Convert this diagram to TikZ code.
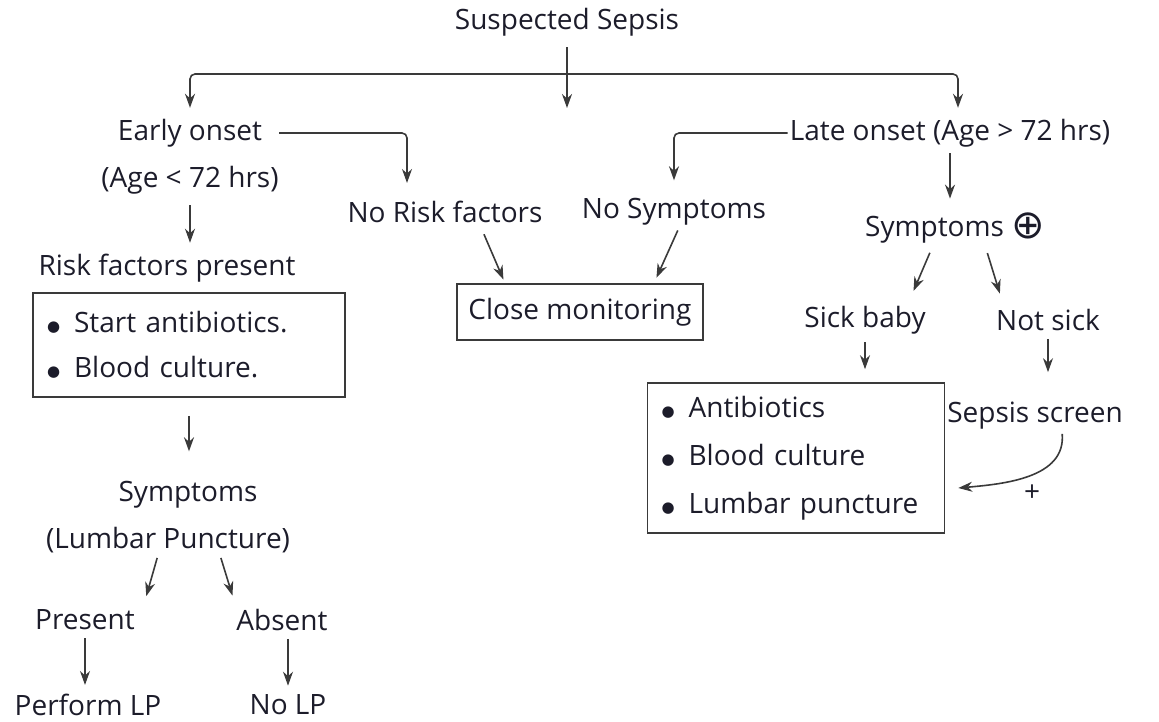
\documentclass[tikz,border=0pt]{standalone}
\usepackage{fontspec}
\setmainfont{Open Sans}
\newfontfamily\symfont{DejaVu Sans}
\usetikzlibrary{arrows.meta}
\definecolor{txtcol}{HTML}{1C1C2A}
\definecolor{linecol}{HTML}{3A3A3A}
\newcommand{\bul}{{\symfont\fontsize{15}{15}\selectfont\raisebox{1pt}{●}}\hspace{14pt}}

\begin{document}
\begin{tikzpicture}[x=1pt, y=-1pt,
    every node/.style={font=\fontsize{28}{32}\selectfont, text=txtcol, inner sep=2pt},
    arr/.style={draw=linecol, line width=1.6pt, shorten <=9pt, shorten >=9pt,
        -{Stealth[length=14pt,width=10pt]}},
    box/.style={draw=linecol, line width=1.6pt, align=left}]
    \useasboundingbox (0,0) rectangle (1159,722);

    % top
    \node (ss) at (567,22) {Suspected Sepsis};
    \coordinate (bar) at (567,74);
    \coordinate (mid) at (567,117);
    \node (eo) at (190,133) {Early onset};
    \node (eoage) at (190,180) {(Age < 72 hrs)};
    \node (lo) at (950,133) {Late onset (Age > 72 hrs)};

    % middle
    \node (nrf) at (445,212) {No Risk factors};
    \node (nsy) at (674,212) {No Symptoms};
    \node (cm) [box, minimum width=246, minimum height=56] at (580,312) {Close monitoring};

    % early onset branch
    \node (rfp) at (167,268) {Risk factors present};
    \node (lbox) [box, minimum width=312, minimum height=104, inner xsep=14pt,
        text width=284, font=\fontsize{28}{45}\selectfont] at (189,345)
        {\bul Start antibiotics.\\\bul Blood culture.};
    \node (sym) at (188,495) {Symptoms};
    \node (lp) at (168,540) {(Lumbar Puncture)};
    \node (pres) at (85,620) {Present};
    \node (abs) at (282,620) {Absent};
    \node (plp) at (88,705) {Perform LP};
    \node (nlp) at (288,705) {No LP};

    % late onset branch
    \node (sp) at (955,228) {Symptoms {\symfont\fontsize{40}{40}\selectfont\raisebox{-2pt}{⊕}}};
    \node (sick) at (865,320) {Sick baby};
    \node (nots) at (1048,320) {Not sick};
    \node (rbox) [box, minimum width=297, minimum height=150, inner xsep=14pt,
        text width=269, font=\fontsize{28}{48}\selectfont] at (796,458)
        {\bul Antibiotics\\\bul Blood culture\\\bul Lumbar puncture};
    \node (scr) at (1035,416) {Sepsis screen};
    \node (plus) at (1032,493) {+};

    % connectors
    \draw[arr] (ss.south) -- (mid);
    \draw[arr, rounded corners=5pt, shorten <=0pt] (bar) -| (eo.north);
    \draw[arr, rounded corners=5pt, shorten <=0pt] (bar) -| ([xshift=8pt]lo.north);
    \draw[arr, rounded corners=5pt, shorten <=0pt, shorten >=16pt] ([xshift=15pt]eo.east) -| ([xshift=-38pt]nrf.north);
    \draw[arr, rounded corners=5pt, shorten <=0pt, shorten >=16pt] (lo.west) -| (nsy.north);
    \draw[arr] (eoage.south) -- (eoage.south |- rfp.north);
    \draw[arr, shorten <=18pt, shorten >=28pt] (lbox.south) -- (lbox.south |- sym.north);
    \draw[arr, shorten <=3pt, shorten >=12pt] ([xshift=-10pt]lp.south) -- ([xshift=58pt]pres.north);
    \draw[arr, shorten <=3pt, shorten >=12pt] ([xshift=52pt]lp.south) -- ([xshift=-46pt]abs.north);
    \draw[arr, shorten <=6pt, shorten >=7pt] (pres.south) -- (pres.south |- plp.north);
    \draw[arr, shorten <=6pt, shorten >=7pt] (nlp.north |- abs.south) -- (nlp.north);
    \draw[arr, shorten <=10pt, shorten >=4pt] ([xshift=35pt]nrf.south) -- ([xshift=-75pt]cm.north);
    \draw[arr, shorten <=3pt, shorten >=6pt] ([xshift=5pt]nsy.south) -- ([xshift=74pt]cm.north);
    \draw[arr, shorten <=4pt, shorten >=12pt] (lo.south) -- (lo.south |- sp.north);
    \draw[arr, shorten <=8pt, shorten >=14pt] ([xshift=-22pt]sp.south) -- ([xshift=43pt]sick.north);
    \draw[arr, shorten <=8pt, shorten >=14pt] ([xshift=30pt]sp.south) -- ([xshift=-44pt]nots.north);
    \draw[arr, shorten <=6pt, shorten >=13pt] (sick.south) -- (sick.south |- rbox.north);
    \draw[arr, shorten <=6pt, shorten >=28pt] (nots.south) -- (nots.south |- scr.north);
    \draw[arr, shorten <=2pt, shorten >=0pt] ([xshift=27pt]scr.south) to[out=-85, in=5] ([xshift=13pt, yshift=-30pt]rbox.east);
\end{tikzpicture}
\end{document}
